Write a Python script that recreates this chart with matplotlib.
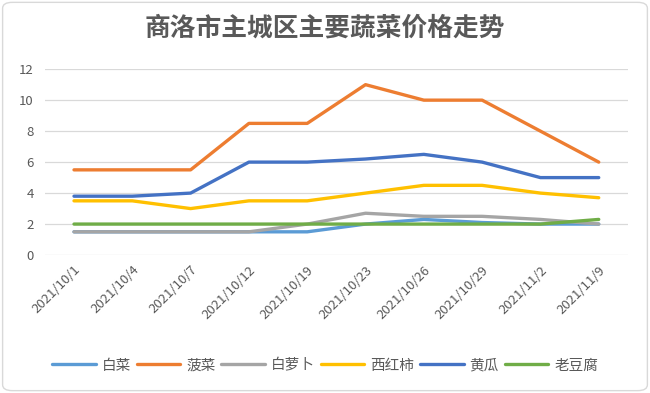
import matplotlib.pyplot as plt
from matplotlib.patches import FancyBboxPatch

plt.rcParams['font.family'] = ['Noto Sans CJK SC', 'DejaVu Sans']

dates = ["2021/10/1", "2021/10/4", "2021/10/7", "2021/10/12", "2021/10/19",
         "2021/10/23", "2021/10/26", "2021/10/29", "2021/11/2", "2021/11/9"]
baicai = [1.5, 1.5, 1.5, 1.5, 1.5, 2.0, 2.3, 2.1, 2.0, 2.0]
bocai = [5.5, 5.5, 5.5, 8.5, 8.5, 11, 10, 10, 8, 6]
bailuobo = [1.5, 1.5, 1.5, 1.5, 2.0, 2.7, 2.5, 2.5, 2.3, 2.0]
xihongshi = [3.5, 3.5, 3.0, 3.5, 3.5, 4.0, 4.5, 4.5, 4.0, 3.7]
huanggua = [3.8, 3.8, 4.0, 6.0, 6.0, 6.2, 6.5, 6.0, 5.0, 5.0]
laodoufu = [2, 2, 2, 2, 2, 2, 2, 2, 2, 2.3]

series = [("白菜", baicai, "#5B9BD5"),
          ("菠菜", bocai, "#ED7D31"),
          ("白萝卜", bailuobo, "#A5A5A5"),
          ("西红柿", xihongshi, "#FFC000"),
          ("黄瓜", huanggua, "#4472C4"),
          ("老豆腐", laodoufu, "#70AD47")]

fig = plt.figure(figsize=(6.5, 3.93), dpi=100)
ax = fig.add_axes([0.069, 0.351, 0.897, 0.473])

x = range(len(dates))
for name, vals, col in series:
    ax.plot(x, vals, color=col, lw=2.4, label=name, solid_capstyle='round')

ax.set_xlim(-0.5, len(dates) - 0.5)
ax.set_ylim(0, 12)
ax.set_yticks(range(0, 13, 2))
ax.set_xticks(list(x))
ax.set_xticklabels(dates, rotation=45, ha='right', rotation_mode='anchor')
ax.tick_params(axis='both', length=0, labelsize=9.5, colors='#595959')
ax.tick_params(axis='y', pad=8)
ax.tick_params(axis='x', pad=6)
ax.grid(axis='y', color='#D9D9D9', lw=0.9)
ax.set_axisbelow(True)
for s in ax.spines.values():
    s.set_visible(False)

fig.text(0.5, 0.928, "商洛市主城区主要蔬菜价格走势", ha='center', va='center',
         fontsize=18.5, fontweight='bold', color='#595959')

leg = ax.legend(loc='center', ncol=6, frameon=False, fontsize=10.5,
                handlelength=3.0, handletextpad=0.4, columnspacing=0.4,
                labelcolor='#595959')
leg.set_bbox_to_anchor((0.5, 0.07), transform=fig.transFigure)

fig.patches.append(FancyBboxPatch((0.004, 0.006), 0.992, 0.988,
                                  boxstyle="round,pad=0,rounding_size=0.015",
                                  transform=fig.transFigure, fill=False,
                                  edgecolor='#D9D9D9', lw=1))

fig.savefig("out.png", dpi=100)
